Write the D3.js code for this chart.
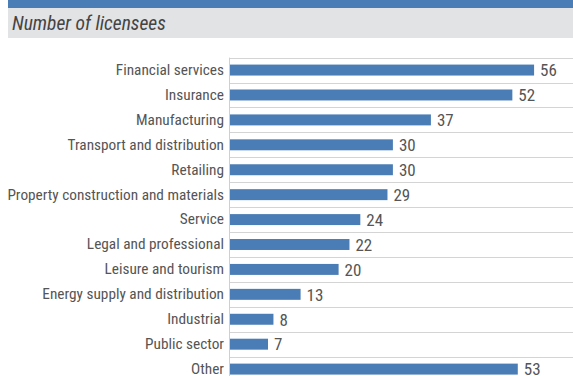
<!DOCTYPE html>
<html>
<head>
<meta charset="utf-8">
<script src="https://cdn.jsdelivr.net/npm/d3@7/dist/d3.min.js"></script>
<style>
  html, body { margin: 0; padding: 0; background: #fff; }
  svg { display: block; }
  text { font-family: "Liberation Sans Narrow", "Roboto Condensed", "Arial Narrow", "Liberation Sans", sans-serif; }
</style>
</head>
<body>
<svg id="chart" width="573" height="376"></svg>
<script>
// Licensee counts by sector
const categories = [
  "Financial services", "Insurance", "Manufacturing", "Transport and distribution",
  "Retailing", "Property construction and materials", "Service", "Legal and professional",
  "Leisure and tourism", "Energy supply and distribution", "Industrial", "Public sector", "Other"
];
const values = [56, 52, 37, 30, 30, 29, 24, 22, 20, 13, 8, 7, 53];
const title = "Number of licensees";

const W = 573, H = 376;
const svg = d3.select("#chart");

// Header: blue strip and grey title band
svg.append("rect").attr("x", 8).attr("y", 0).attr("width", W - 8).attr("height", 8).attr("fill", "#4a7db5");
svg.append("rect").attr("x", 8).attr("y", 8).attr("width", W - 8).attr("height", 30).attr("fill", "#e2e3e5");
svg.append("text").attr("x", 12).attr("y", 30)
  .attr("font-size", 19.5).attr("font-style", "italic").attr("fill", "#444")
  .text(title);

const plotLeft = 230, plotTop = 57.6, step = 24.92;
const y = d3.scaleBand().domain(categories)
  .range([plotTop, plotTop + step * categories.length]).paddingInner(0.56).paddingOuter(0.28);
const x = d3.scaleLinear().domain([0, 60]).range([plotLeft, plotLeft + 60 * 5.43]);

// Horizontal separators between rows
const bounds = d3.range(categories.length + 1).map(i => Math.round(plotTop + i * step));
svg.append("g").selectAll("line").data(bounds).join("line")
  .attr("x1", plotLeft).attr("x2", W).attr("y1", d => d + 0.5).attr("y2", d => d + 0.5)
  .attr("stroke", "#d4d4d4").attr("stroke-width", 1);

// Left axis line
svg.append("line").attr("x1", plotLeft - 0.5).attr("x2", plotLeft - 0.5)
  .attr("y1", plotTop).attr("y2", H).attr("stroke", "#cfcfcf");

// Bars
svg.append("g").selectAll("rect").data(categories).join("rect")
  .attr("x", x(0)).attr("y", d => y(d))
  .attr("width", (d, i) => x(values[i]) - x(0))
  .attr("height", y.bandwidth())
  .attr("fill", "#4a7db5");

// Value labels
svg.append("g").selectAll("text").data(categories).join("text")
  .attr("x", (d, i) => x(values[i]) + 6)
  .attr("y", d => y(d) + y.bandwidth() / 2)
  .attr("dy", "0.37em")
  .attr("font-size", 17).attr("fill", "#555")
  .text((d, i) => values[i]);

// Category labels
const yAxis = d3.axisLeft(y).tickSize(0).tickPadding(6);
const ga = svg.append("g").attr("transform", `translate(${plotLeft},0)`).call(yAxis);
ga.select(".domain").remove();
ga.selectAll("text").attr("font-size", 15.3).attr("fill", "#555")
  .style("font-family", '"Liberation Sans Narrow", "Roboto Condensed", "Arial Narrow", "Liberation Sans", sans-serif');
</script>
</body>
</html>
